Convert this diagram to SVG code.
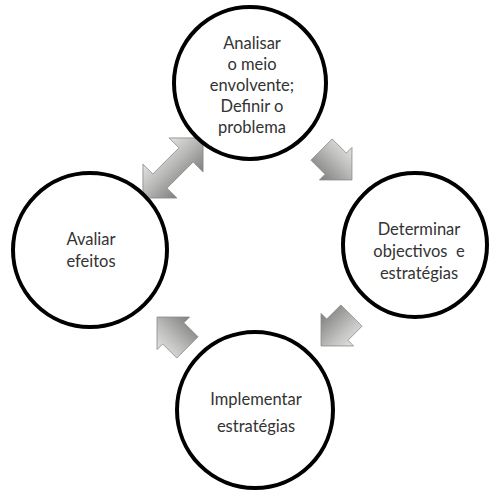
<svg xmlns="http://www.w3.org/2000/svg" width="491" height="492" viewBox="0 0 491 492">
<style>
.c{fill:#fff;stroke:#000;stroke-width:4}
.t{font-family:Lato,"Open Sans",sans-serif;font-size:16.5px;fill:#333;text-anchor:middle}
.a{fill:url(#g);stroke:#8c8c8a;stroke-width:0.8}
</style>
<defs>
<linearGradient id="g" x1="0" y1="0" x2="0" y2="1">
<stop offset="0" stop-color="#e4e4e2"/>
<stop offset="0.45" stop-color="#b9b9b7"/>
<stop offset="1" stop-color="#7e7e7c"/>
</linearGradient>
<polygon id="blk" points="-20,-15 0,-15 0,-23 23,0 0,23 0,15 -20,15"/>
</defs>
<g id="connectors">
<polygon class="a" transform="translate(173,168) rotate(-45)" points="-42.5,0 -18.5,-24 -18.5,-10 18.5,-10 18.5,-24 42.5,0 18.5,24 18.5,10 -18.5,10 -18.5,24"/>
<use href="#blk" class="a" transform="translate(335.7,163.7) rotate(45)"/>
<use href="#blk" class="a" transform="translate(337.3,329.7) rotate(135)"/>
<use href="#blk" class="a" transform="translate(173.3,333.3) rotate(225)"/>
</g>
<g id="n1">
<circle class="c" cx="250" cy="83" r="76"/>
<text class="t" x="252" y="49">Analisar</text>
<text class="t" x="252" y="70">o meio</text>
<text class="t" x="252" y="91">envolvente;</text>
<text class="t" x="252" y="112">Definir o</text>
<text class="t" x="252" y="133">problema</text>
</g>
<g id="n2">
<circle class="c" cx="415" cy="245" r="72"/>
<text class="t" x="419" y="235">Determinar</text>
<text class="t" x="419" y="257" xml:space="preserve">objectivos  e</text>
<text class="t" x="419" y="279">estratégias</text>
</g>
<g id="n3">
<circle class="c" cx="255" cy="410" r="78"/>
<text class="t" x="256" y="405">Implementar</text>
<text class="t" x="256" y="432">estratégias</text>
</g>
<g id="n4">
<circle class="c" cx="90" cy="250" r="77"/>
<text class="t" x="91" y="245">Avaliar</text>
<text class="t" x="91" y="267">efeitos</text>
</g>
</svg>
